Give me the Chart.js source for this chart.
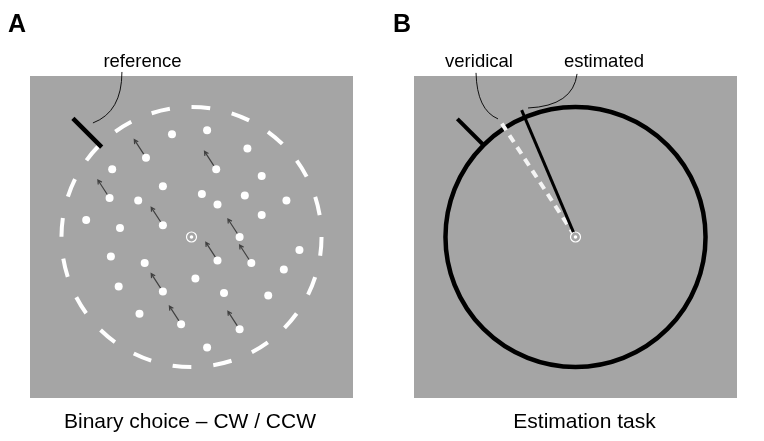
<!DOCTYPE html>
<html>
<head>
<meta charset="utf-8">
<script src="https://cdn.jsdelivr.net/npm/chart.js@4"></script>
<style>
  body { margin: 0; background: #fff; }
  #wrap { position: relative; width: 764px; height: 441px; }
  canvas { position: absolute; top: 0; }
  #panelA { left: 0; }
  #panelB { left: 382px; }
</style>
</head>
<body>
<div id="wrap">
  <canvas id="panelA" width="382" height="441"></canvas>
  <canvas id="panelB" width="382" height="441"></canvas>
</div>
<script>
"use strict"
// stimulus coordinates in deg, fixation at 0,0, y up
const dotX = [-1.5, 1.2, 4.3, -3.5, 1.9, -6.1, 5.4, -2.2, -6.3, -4.1, 0.8, 4.1, 2.0, 7.3, -2.2, -8.1, -5.5,
    5.4, 3.7, 2.0, 4.6, 8.3, -6.2, -3.6, 7.1, 0.3, -5.6, -2.2, 2.5, 5.9, -4.0, -0.8, 3.7, 1.2];
const dotY = [7.9, 8.2, 6.8, 6.1, 5.2, 5.2, 4.7, 3.9, 3.0, 2.8, 3.3, 3.2, 2.5, 2.8, 0.9, 1.3, 0.7,
    1.7, 0.0, -1.8, -2.0, -1.0, -1.5, -2.0, -2.5, -3.2, -3.8, -4.2, -4.3, -4.5, -5.9, -6.7, -7.1, -8.5];
const coherentDots = [3, 4, 8, 14, 18, 19, 20, 27, 31, 32];
const motionDir = 123;
const arrowLen = 1.65;

const apertureRadius = 10;
const referenceDir = 135;
const veridicalDir = 123;
const estimatedDir = 113;

const panelLetters = ["A", "B"];
const captions = ["Binary choice \u2013 CW / CCW", "Estimation task"];
const calloutsA = ["reference"];
const calloutsB = ["veridical", "estimated"];
// leader curves: start, control, end (deg)
const leadersA = [[[-7.58, 8.77], [-5.35, 9.62], [-5.35, 12.69]]];
const leadersB = [
    [[-7.65, 12.62], [-7.58, 9.77], [-5.96, 9.08]],
    [[0.12, 12.54], [-0.19, 10.08], [-3.65, 9.92]],
];

const GRAY = "#a5a5a5";
const FONT = "'Liberation Sans', Helvetica, Arial, sans-serif";

function px(chart, x, y) {
    return [chart.scales.x.getPixelForValue(x), chart.scales.y.getPixelForValue(y)];
}
function unit(chart) {
    return chart.scales.x.getPixelForValue(1) - chart.scales.x.getPixelForValue(0);
}
function polar(dir, r) {
    const a = dir * Math.PI / 180;
    return [r * Math.cos(a), r * Math.sin(a)];
}
function radial(chart, dir, r0, r1, color, width, dash) {
    const ctx = chart.ctx;
    const p0 = px(chart, ...polar(dir, r1));
    const p1 = px(chart, ...polar(dir, r0));
    ctx.save();
    ctx.strokeStyle = color;
    ctx.lineWidth = width;
    ctx.lineCap = "butt";
    if (dash) ctx.setLineDash(dash);
    ctx.beginPath();
    ctx.moveTo(p0[0], p0[1]);
    ctx.lineTo(p1[0], p1[1]);
    ctx.stroke();
    ctx.restore();
}
function fillPanel(chart) {
    const a = chart.chartArea;
    chart.ctx.fillStyle = GRAY;
    chart.ctx.fillRect(a.left, a.top, a.right - a.left, a.bottom - a.top);
}
function drawLeaders(chart, leaders) {
    const ctx = chart.ctx;
    ctx.save();
    ctx.strokeStyle = "#000";
    ctx.lineWidth = 0.9;
    leaders.forEach(l => {
        const s = px(chart, ...l[0]), c = px(chart, ...l[1]), e = px(chart, ...l[2]);
        ctx.beginPath();
        ctx.moveTo(s[0], s[1]);
        ctx.quadraticCurveTo(c[0], c[1], e[0], e[1]);
        ctx.stroke();
    });
    ctx.restore();
}

const textPlugin = {
    id: "texts",
    afterDraw(chart, args, opts) {
        const ctx = chart.ctx;
        ctx.save();
        ctx.fillStyle = "#000";
        ctx.textBaseline = "alphabetic";
        ctx.font = "bold 25px " + FONT;
        ctx.textAlign = "left";
        ctx.fillText(opts.letter, opts.letterX, 32);
        ctx.font = "18.5px " + FONT;
        ctx.textAlign = "center";
        opts.callouts.forEach((t, i) => ctx.fillText(t, opts.calloutX[i], 66.5));
        ctx.font = "21px " + FONT;
        ctx.fillText(opts.caption, opts.captionX, 428);
        ctx.restore();
    }
};

const stimulusA = {
    id: "stimulusA",
    beforeDatasetsDraw(chart) {
        const ctx = chart.ctx;
        ctx.save();
        fillPanel(chart);
        // dashed aperture
        const c = px(chart, 0, 0);
        const r = unit(chart) * apertureRadius;
        const period = 2 * Math.PI * r / 20;
        ctx.strokeStyle = "#fff";
        ctx.lineWidth = 4;
        ctx.setLineDash([period * 0.46, period * 0.54]);
        ctx.beginPath();
        ctx.arc(c[0], c[1], r, -Math.PI / 2, 1.5 * Math.PI);
        ctx.stroke();
        ctx.setLineDash([]);
        ctx.restore();
        radial(chart, referenceDir, 9.77, 12.9, "#000", 4.5);
        // motion arrows
        ctx.save();
        ctx.strokeStyle = "#404040";
        ctx.lineWidth = 1.2;
        coherentDots.forEach(i => {
            const d = polar(motionDir, arrowLen);
            const s = px(chart, dotX[i], dotY[i]);
            const t = px(chart, dotX[i] + d[0], dotY[i] + d[1]);
            const ang = Math.atan2(t[1] - s[1], t[0] - s[0]);
            ctx.beginPath();
            ctx.moveTo(s[0], s[1]);
            ctx.lineTo(t[0], t[1]);
            ctx.moveTo(t[0] - 4.5 * Math.cos(ang - 0.5), t[1] - 4.5 * Math.sin(ang - 0.5));
            ctx.lineTo(t[0], t[1]);
            ctx.lineTo(t[0] - 4.5 * Math.cos(ang + 0.5), t[1] - 4.5 * Math.sin(ang + 0.5));
            ctx.stroke();
        });
        ctx.restore();
        drawLeaders(chart, leadersA);
    }
};

const stimulusB = {
    id: "stimulusB",
    beforeDatasetsDraw(chart) {
        const ctx = chart.ctx;
        ctx.save();
        fillPanel(chart);
        const c = px(chart, 0, 0);
        const r = unit(chart) * apertureRadius;
        ctx.strokeStyle = "#000";
        ctx.lineWidth = 4.5;
        ctx.beginPath();
        ctx.arc(c[0], c[1], r, 0, 2 * Math.PI);
        ctx.stroke();
        ctx.restore();
        radial(chart, referenceDir, 9.95, 12.85, "#000", 4);
        radial(chart, veridicalDir, 0.4, 10.4, "#f4f4f4", 4, [8, 6]);
        radial(chart, estimatedDir, 0.35, 10.6, "#000", 3);
        drawLeaders(chart, leadersB);
    }
};

function fixation() {
    return [
        { data: [{ x: 0, y: 0 }], pointRadius: 5, borderColor: "#fff", borderWidth: 1.2, backgroundColor: "rgba(0,0,0,0)" },
        { data: [{ x: 0, y: 0 }], pointRadius: 1.8, borderWidth: 0, backgroundColor: "#fff" },
    ];
}

function baseOptions(padding, texts) {
    return {
        responsive: false,
        animation: false,
        events: [],
        layout: { padding: padding },
        scales: {
            x: { type: "linear", min: -12.42, max: 12.42, display: false },
            y: { type: "linear", min: -12.38, max: 12.38, display: false },
        },
        plugins: {
            legend: { display: false },
            tooltip: { enabled: false },
            texts: texts,
        },
    };
}

new Chart(document.getElementById("panelA"), {
    type: "scatter",
    plugins: [stimulusA, textPlugin],
    data: {
        datasets: [
            {
                data: dotX.map((x, i) => ({ x: x, y: dotY[i] })),
                pointRadius: 4,
                borderWidth: 0,
                backgroundColor: "#fff",
            },
            ...fixation(),
        ],
    },
    options: baseOptions({ left: 30, right: 29, top: 76, bottom: 43 }, {
        letter: panelLetters[0], letterX: 8,
        callouts: calloutsA, calloutX: [142.5],
        caption: captions[0], captionX: 190,
    }),
});

new Chart(document.getElementById("panelB"), {
    type: "scatter",
    plugins: [stimulusB, textPlugin],
    data: { datasets: fixation() },
    options: baseOptions({ left: 32, right: 27, top: 76, bottom: 43 }, {
        letter: panelLetters[1], letterX: 11,
        callouts: calloutsB, calloutX: [97, 222],
        caption: captions[1], captionX: 202.5,
    }),
});
</script>
</body>
</html>
